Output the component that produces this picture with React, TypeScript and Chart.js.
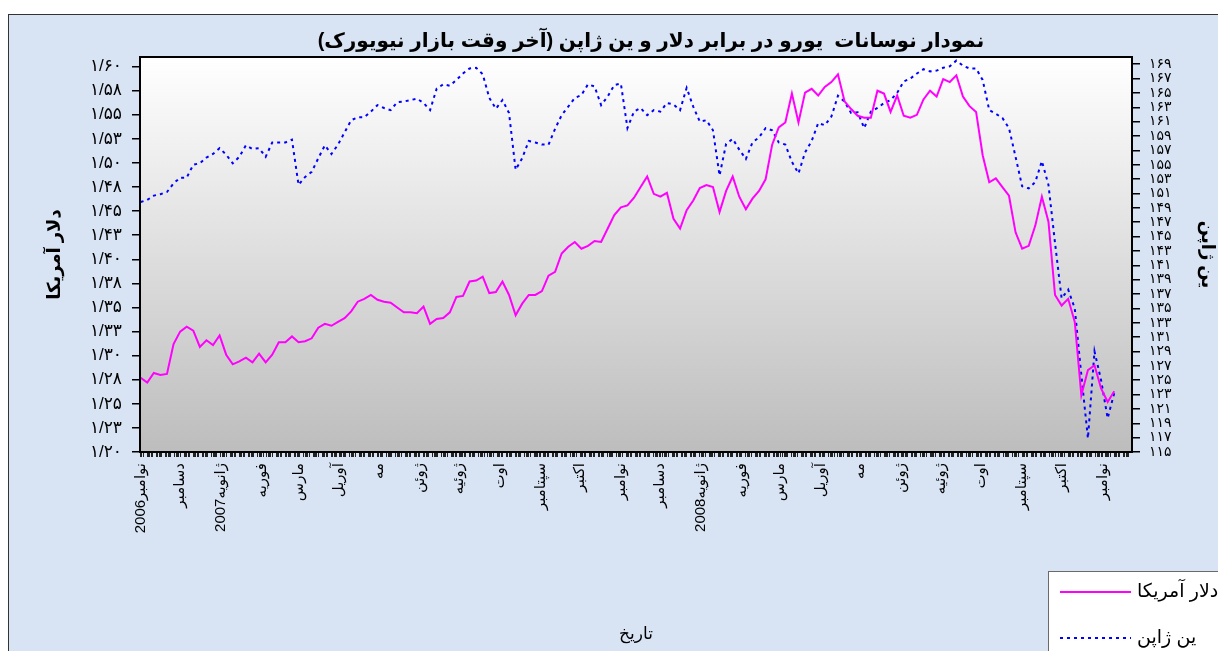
import React, { useEffect, useRef } from 'react';
import { Chart, registerables } from 'chart.js';

Chart.register(...registerables);

const FONT = "'Liberation Sans', 'DejaVu Sans', sans-serif";

const titleText = 'نمودار نوسانات  یورو در برابر دلار و ین ژاپن (آخر وقت بازار نیویورک)';
const usdLabel = 'دلار آمریکا';
const jpyLabel = 'ین ژاپن';
const xTitle = 'تاریخ';

// one sample every 5 calendar days, starting 1 Nov 2006 (day 0)
const SAMPLE_STEP_DAYS = 5;

const usdValues = [
  1.277, 1.272, 1.282, 1.280, 1.281, 1.312, 1.325, 1.330, 1.326, 1.309,
  1.316, 1.311, 1.321, 1.301, 1.291, 1.294, 1.298, 1.293, 1.302, 1.293,
  1.301, 1.314, 1.314, 1.320, 1.314, 1.315, 1.318, 1.329, 1.333, 1.331,
  1.335, 1.339, 1.346, 1.356, 1.359, 1.363, 1.358, 1.356, 1.355, 1.350,
  1.345, 1.345, 1.344, 1.351, 1.333, 1.338, 1.339, 1.345, 1.361, 1.362,
  1.377, 1.378, 1.382, 1.365, 1.366, 1.377, 1.363, 1.342, 1.354, 1.363,
  1.363, 1.367, 1.383, 1.387, 1.406, 1.413, 1.418, 1.411, 1.414, 1.419,
  1.418, 1.432, 1.446, 1.454, 1.456, 1.464, 1.475, 1.486, 1.468, 1.465,
  1.469, 1.442, 1.432, 1.451, 1.461, 1.474, 1.477, 1.475, 1.449, 1.471,
  1.486, 1.465, 1.452, 1.463, 1.471, 1.483, 1.519, 1.537, 1.542, 1.572,
  1.542, 1.573, 1.577, 1.570, 1.579, 1.584, 1.592, 1.564, 1.556, 1.549,
  1.547, 1.547, 1.575, 1.572, 1.553, 1.570, 1.549, 1.547, 1.550, 1.566,
  1.575, 1.569, 1.587, 1.584, 1.591, 1.569, 1.559, 1.553, 1.508, 1.480,
  1.484, 1.475, 1.466, 1.428, 1.411, 1.414, 1.435, 1.465, 1.439, 1.363,
  1.352, 1.359, 1.335, 1.259, 1.285, 1.290, 1.266, 1.252, 1.263,
];

const jpyValues = [
  149.8, 150.1, 150.7, 150.9, 151.2, 152.4, 153.2, 153.2, 155.0, 155.2,
  156.0, 156.5, 157.3, 156.4, 155.2, 156.1, 157.7, 157.2, 157.3, 156.1,
  158.1, 158.1, 158.1, 158.5, 152.2, 153.3, 154.0, 155.9, 157.7, 156.5,
  157.8, 159.5, 161.2, 161.6, 161.6, 162.4, 163.3, 162.9, 162.6, 163.7,
  163.8, 164.0, 164.2, 163.6, 162.6, 165.6, 166.2, 166.0, 166.8, 167.7,
  168.4, 168.5, 167.6, 164.3, 162.8, 164.0, 162.2, 154.3, 155.9, 158.3,
  158.1, 157.8, 157.8, 160.0, 161.9, 163.1, 164.3, 164.7, 166.2, 165.9,
  163.3, 164.5, 166.1, 166.3, 160.1, 162.4, 162.9, 161.9, 162.6, 162.4,
  163.6, 163.4, 162.6, 165.7, 163.1, 161.0, 161.2, 159.8, 153.5, 157.9,
  158.6, 157.1, 155.8, 158.1, 158.8, 160.1, 159.8, 158.1, 157.8, 155.4,
  153.8, 156.7, 158.3, 160.8, 160.5, 161.7, 164.6, 163.8, 162.2, 162.3,
  160.1, 162.4, 162.9, 163.6, 164.0, 165.0, 166.6, 167.0, 167.7, 168.3,
  168.0, 168.1, 168.5, 168.7, 169.5, 168.8, 168.4, 168.4, 166.8, 162.6,
  162.1, 161.5, 160.1, 156.1, 152.0, 151.7, 152.6, 155.5, 152.2, 144.1,
  136.4, 137.6, 135.0, 125.7, 116.9, 129.0, 125.0, 119.7, 123.2,
];

const monthStartDays = [
  0, 30, 61, 92, 120, 151, 181, 212, 242, 273, 304, 334,
  365, 395, 426, 457, 486, 517, 547, 578, 608, 639, 670, 700, 731,
];
const monthLabels = [
  'نوامبر2006', 'دسامبر', 'ژانویه2007', 'فوریه', 'مارس', 'آوریل', 'مه', 'ژوئن',
  'ژوئیه', 'اوت', 'سپتامبر', 'اکتبر', 'نوامبر', 'دسامبر', 'ژانویه2008', 'فوریه',
  'مارس', 'آوریل', 'مه', 'ژوئن', 'ژوئیه', 'اوت', 'سپتامبر', 'اکتبر', 'نوامبر',
];

const usdTickValues = [
  1.2, 1.225, 1.25, 1.275, 1.3, 1.325, 1.35, 1.375, 1.4,
  1.425, 1.45, 1.475, 1.5, 1.525, 1.55, 1.575, 1.6,
];
const usdTickLabels = [
  '۱/۲۰', '۱/۲۳', '۱/۲۵', '۱/۲۸', '۱/۳۰', '۱/۳۳', '۱/۳۵', '۱/۳۸', '۱/۴۰',
  '۱/۴۳', '۱/۴۵', '۱/۴۸', '۱/۵۰', '۱/۵۳', '۱/۵۵', '۱/۵۸', '۱/۶۰',
];

const jpyTickValues = [
  115, 117, 119, 121, 123, 125, 127, 129, 131, 133, 135, 137, 139, 141,
  143, 145, 147, 149, 151, 153, 155, 157, 159, 161, 163, 165, 167, 169,
];
const jpyTickLabels = [
  '۱۱۵', '۱۱۷', '۱۱۹', '۱۲۱', '۱۲۳', '۱۲۵', '۱۲۷', '۱۲۹', '۱۳۱', '۱۳۳', '۱۳۵', '۱۳۷', '۱۳۹', '۱۴۱',
  '۱۴۳', '۱۴۵', '۱۴۷', '۱۴۹', '۱۵۱', '۱۵۳', '۱۵۵', '۱۵۷', '۱۵۹', '۱۶۱', '۱۶۳', '۱۶۵', '۱۶۷', '۱۶۹',
];

const X_MIN = -0.5;
const X_MAX = 753.5;

export default function App() {
  const ref = useRef<HTMLCanvasElement>(null);

  useEffect(() => {
    const canvas = ref.current;
    if (!canvas) return;

    // weekday tick marks (day 0 = Wednesday) plus month starts
    const xTickDays: number[] = [];
    for (let d = 0; d <= Math.floor(X_MAX); d++) {
      const wd = (3 + d) % 7;
      if ((wd !== 0 && wd !== 6) || monthStartDays.includes(d)) xTickDays.push(d);
    }

    const decor = {
      id: 'decor',
      beforeDraw(chart: any) {
        const { ctx, chartArea: a } = chart;
        const g = ctx.createLinearGradient(0, a.top, 0, a.bottom);
        g.addColorStop(0, '#ffffff');
        g.addColorStop(1, '#bdbdbd');
        ctx.save();
        ctx.fillStyle = g;
        ctx.fillRect(a.left, a.top, a.right - a.left, a.bottom - a.top);
        ctx.restore();
      },
      afterDraw(chart: any) {
        const { ctx, chartArea: a } = chart;
        ctx.save();
        ctx.strokeStyle = '#000';
        ctx.lineWidth = 2;
        ctx.strokeRect(a.left, a.top, a.right - a.left, a.bottom - a.top);

        ctx.direction = 'rtl';
        ctx.font = `bold 20px ${FONT}`;
        ctx.fillStyle = '#000';
        ctx.textAlign = 'center';
        ctx.textBaseline = 'middle';
        ctx.fillText(titleText, 642, 26);

        // legend box
        ctx.fillStyle = '#ffffff';
        ctx.fillRect(1039.5, 556.5, 400, 200);
        ctx.strokeStyle = '#6a6a6a';
        ctx.lineWidth = 1;
        ctx.strokeRect(1039.5, 556.5, 400, 200);
        chart.data.datasets.forEach((ds: any, i: number) => {
          const y = 577 + i * 46;
          ctx.strokeStyle = ds.borderColor;
          ctx.lineWidth = 2;
          ctx.setLineDash(ds.borderDash || []);
          ctx.beginPath();
          ctx.moveTo(1051, y);
          ctx.lineTo(1122, y);
          ctx.stroke();
          ctx.setLineDash([]);
          ctx.font = `19px ${FONT}`;
          ctx.fillStyle = '#000';
          ctx.textAlign = 'left';
          ctx.textBaseline = 'middle';
          ctx.fillText(ds.label, 1128, y);
        });
        ctx.restore();
      },
    };

    const chart = new Chart(canvas, {
      type: 'line',
      data: {
        datasets: [
          {
            label: usdLabel,
            data: usdValues.map((v, i) => ({ x: i * SAMPLE_STEP_DAYS, y: v })),
            borderColor: '#ff00ff',
            backgroundColor: '#ff00ff',
            borderWidth: 2,
            pointRadius: 0,
            tension: 0,
            yAxisID: 'y',
          },
          {
            label: jpyLabel,
            data: jpyValues.map((v, i) => ({ x: i * SAMPLE_STEP_DAYS, y: v })),
            borderColor: '#0000ff',
            backgroundColor: '#0000ff',
            borderWidth: 2,
            borderDash: [3, 4],
            pointRadius: 0,
            tension: 0,
            yAxisID: 'y1',
          },
        ],
      },
      options: {
        responsive: false,
        animation: false,
        events: [],
        layout: { padding: { top: 42, left: 0, right: 0, bottom: 0 } },
        plugins: {
          legend: { display: false },
          title: { display: false },
          tooltip: { enabled: false },
        },
        scales: {
          x: {
            type: 'linear',
            position: 'bottom',
            min: X_MIN,
            max: X_MAX,
            afterBuildTicks: (s: any) => {
              s.ticks = xTickDays.map((v) => ({ value: v }));
            },
            afterFit: (s: any) => {
              s.height = 199;
            },
            ticks: {
              autoSkip: false,
              minRotation: 90,
              maxRotation: 90,
              padding: 6,
              color: '#000',
              font: { size: 15, family: FONT },
              callback: (v: any) => {
                const i = monthStartDays.indexOf(Number(v));
                return i >= 0 ? monthLabels[i] : '';
              },
            },
            grid: {
              display: true,
              drawOnChartArea: false,
              drawTicks: true,
              tickLength: 5,
              color: '#222',
              lineWidth: 1,
            },
            border: { display: false },
            title: {
              display: true,
              text: xTitle,
              color: '#000',
              font: { size: 17, family: FONT },
              padding: { top: 0, bottom: 6 },
            },
          },
          y: {
            type: 'linear',
            position: 'left',
            min: 1.2,
            max: 1.61,
            afterBuildTicks: (s: any) => {
              s.ticks = usdTickValues.map((v) => ({ value: v }));
            },
            afterFit: (s: any) => {
              s.width = 131;
            },
            ticks: {
              autoSkip: false,
              padding: 10,
              color: '#000',
              font: { size: 17, family: FONT },
              callback: (_v: any, i: number) => usdTickLabels[i],
            },
            grid: {
              display: true,
              drawOnChartArea: false,
              drawTicks: true,
              tickLength: 8,
              color: '#000',
              lineWidth: 1.5,
            },
            border: { display: false },
            title: {
              display: true,
              text: usdLabel,
              color: '#000',
              font: { size: 18, weight: 'bold', family: FONT },
              padding: { top: 35, bottom: 0 },
            },
          },
          y1: {
            type: 'linear',
            position: 'right',
            min: 115,
            max: 170,
            afterBuildTicks: (s: any) => {
              s.ticks = jpyTickValues.map((v) => ({ value: v }));
            },
            afterFit: (s: any) => {
              s.width = 86;
            },
            ticks: {
              autoSkip: false,
              padding: 9,
              color: '#000',
              font: { size: 14, family: FONT },
              callback: (_v: any, i: number) => jpyTickLabels[i],
            },
            grid: {
              display: true,
              drawOnChartArea: false,
              drawTicks: true,
              tickLength: 8,
              color: '#000',
              lineWidth: 1.5,
            },
            border: { display: false },
            title: {
              display: true,
              text: jpyLabel,
              color: '#000',
              font: { size: 18, weight: 'bold', family: FONT },
              padding: { top: 0, bottom: 0 },
            },
          },
        },
      } as any,
      plugins: [decor],
    });

    return () => chart.destroy();
  }, []);

  return (
    <div
      style={{
        position: 'absolute',
        left: 8,
        top: 14,
        width: 1209,
        height: 636,
        borderTop: '1px solid #333',
        borderLeft: '1px solid #333',
        background: '#d8e4f4',
        overflow: 'hidden',
      }}
    >
      <canvas
        ref={ref}
        width={1209}
        height={636}
        style={{ display: 'block', direction: 'rtl' }}
      />
    </div>
  );
}
